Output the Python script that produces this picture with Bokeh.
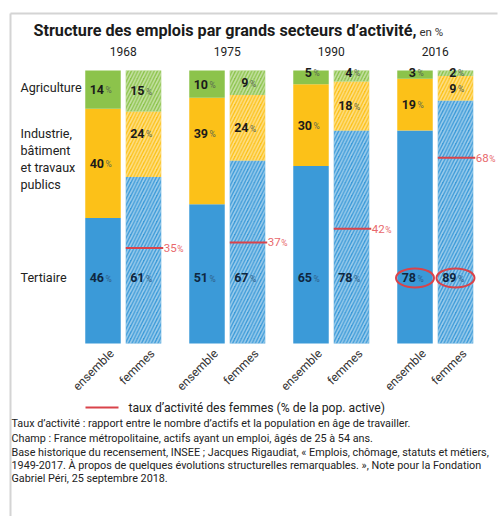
from bokeh.plotting import figure
from bokeh.models import Range1d
from bokeh.core.properties import value
from bokeh.embed import file_html
from bokeh.resources import INLINE

# ---------------- data ----------------
years = ["1968", "1975", "1990", "2016"]
groups = ["ensemble", "femmes"]
ens_tertiaire = [46, 51, 65, 78]
ens_industrie = [40, 39, 30, 19]
ens_agriculture = [14, 10, 5, 3]
fem_tertiaire = [61, 67, 78, 89]
fem_industrie = [24, 24, 18, 9]
fem_agriculture = [15, 9, 4, 2]
taux_activite_femmes = [35, 37, 42, 68]
sector_labels = ["Agriculture", ["Industrie,", "bâtiment", "et travaux", "publics"], "Tertiaire"]
title_main = "Structure des emplois par grands secteurs d’activité,"
title_unit = "en %"
legend_label = "taux d’activité des femmes (% de la pop. active)"
notes = [
    "Taux d’activité : rapport entre le nombre d’actifs et la population en âge de travailler.",
    "Champ : France métropolitaine, actifs ayant un emploi, âgés de 25 à 54 ans.",
    "Base historique du recensement, INSEE ; Jacques Rigaudiat, « Emplois, chômage, statuts et métiers,",
    "1949-2017. À propos de quelques évolutions structurelles remarquables. », Note pour la Fondation",
    "Gabriel Péri, 25 septembre 2018.",
]
highlight_year = "2016"

# ---------------- layout / style ----------------
W, H = 500, 516
GPX = 104.0          # px per group
YPX = 2.73           # px per percent
X0 = -102.5 / GPX
Y0 = -(H - 343) / YPX
OFF = 40.5 / GPX     # offset of "femmes" bar
BW = 35.5 / GPX      # bar width

def px(page_x):
    return X0 + page_x / GPX

def py(page_y):
    return Y0 + (H - page_y) / YPX

FONT = "Roboto"
BLUE, YELLOW, GREEN = "#3b9ad8", "#fcc118", "#8cc34b"
RED, RED_TXT = "#d9434a", "#e8686c"
DARK = "#1b1b1b"
NAVY = "#0f2740"

p = figure(width=W, height=H, output_backend="svg", toolbar_location=None,
           x_range=Range1d(X0, X0 + W / GPX), y_range=Range1d(Y0, Y0 + H / YPX),
           min_border=0, x_axis_location=None, y_axis_location=None)
p.outline_line_color = None
p.grid.visible = False
p.background_fill_color = "white"
p.border_fill_color = "white"

# frame lines
p.segment(x0=[px(10), px(10)], y0=[py(13), py(13)], x1=[px(497), px(10)], y1=[py(13), py(530)],
          line_color="#d4d4d4", line_width=2)

def txt(x, y, s, size, color=DARK, bold=False, align="left", baseline="middle", angle=0.0):
    p.text(x=[x], y=[y], text=[s], text_font=value(FONT), text_font_size=f"{size}px",
           text_font_style="bold" if bold else "normal", text_color=color,
           text_align=align, text_baseline=baseline, angle=angle)

# title
txt(px(33), py(30), title_main, 16.2, bold=True)
txt(px(419), py(31), title_unit, 11.5, color="#333333")

ind_shift = {(0, 1): 4.0, (1, 0): 6.5}

for i, yr in enumerate(years):
    txt(i + OFF / 2, py(51), yr, 12, color="#222222", align="center")
    for g, (ter, ind, agr) in enumerate([(ens_tertiaire[i], ens_industrie[i], ens_agriculture[i]),
                                         (fem_tertiaire[i], fem_industrie[i], fem_agriculture[i])]):
        x = i + g * OFF
        hatch = dict(hatch_pattern="/", hatch_color="white", hatch_alpha=0.5,
                     hatch_scale=6.5, hatch_weight=1.6) if g == 1 else {}
        segs = [(0, ter, BLUE), (ter, ter + ind, YELLOW), (ter + ind, ter + ind + agr, GREEN)]
        for b, t, c in segs:
            p.vbar(x=[x], bottom=[b], top=[t], width=BW, fill_color=c, line_color=None, **hatch)
        # labels
        ly = [24.0, ter + ind / 2 + ind_shift.get((i, g), 0.0),
              (ter + ind + agr / 2) if agr >= 8 else 99.3]
        vals = [ter, ind, agr]
        cols = [NAVY, DARK, DARK]
        for v, yy, c in zip(vals, ly, cols):
            txt(x + 1.0 / GPX, yy, str(v), 12.5, color=c, bold=True, align="right")
            txt(x + 2.5 / GPX, yy - 0.3, "%", 8.5, color="#5a6a50" if c == DARK else "#2f5f8a")
        # x labels
        txt(x + 9 / GPX, py(351), groups[g], 12, color="#333333", align="right",
            angle=0.785)
    # activity rate line
    xf = i + OFF
    p.segment(x0=[xf - BW / 2], y0=[taux_activite_femmes[i]], x1=[xf + BW / 2 + 2 / GPX],
              y1=[taux_activite_femmes[i]], line_color=RED, line_width=2)
    txt(xf + BW / 2 + 2.5 / GPX, taux_activite_femmes[i], str(taux_activite_femmes[i]), 11.5,
        color=RED_TXT, align="left")
    txt(xf + BW / 2 + 16 / GPX, taux_activite_femmes[i] - 0.3, "%", 8.5, color=RED_TXT, align="left")
    if yr == highlight_year:
        p.ellipse(x=[i, i + OFF], y=[24.0, 24.0], width=38 / GPX, height=19 / YPX,
                  fill_color=None, line_color=RED, line_width=2)

# sector labels
txt(px(20), py(87), sector_labels[0], 12.6, color="#222222")
for k, line in enumerate(sector_labels[1]):
    txt(px(20), py(133 + k * 17), line, 12.6, color="#222222")
txt(px(20), py(277), sector_labels[2], 12.6, color="#222222")

# legend
p.segment(x0=[px(85)], y0=[py(407)], x1=[px(118)], y1=[py(407)], line_color=RED, line_width=2)
txt(px(128), py(407), legend_label, 12.2, color="#222222")

# notes
for k, (line, yy) in enumerate(zip(notes, [423, 438, 452, 465, 478])):
    txt(px(11), py(yy), line, 10.8, color="#222222")

open("out.html", "w").write(file_html(p, INLINE))
